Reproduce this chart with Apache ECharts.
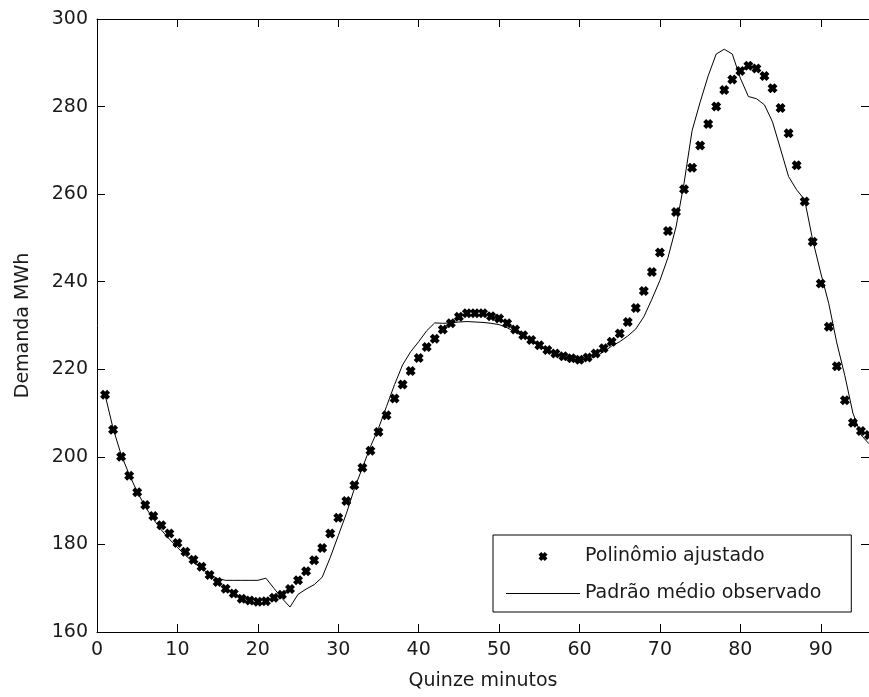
<!DOCTYPE html>
<html>
<head>
<meta charset="utf-8">
<script src="https://cdn.jsdelivr.net/npm/echarts@6/dist/echarts.min.js"></script>
<style>
html,body{margin:0;padding:0;background:#fff;}
#chart{width:869px;height:697px;}
</style>
</head>
<body>
<div id="chart"></div>
<script>
// Fitted polynomial values, quarter-hours 1..96
const polinomio = [
  214.2, 206.2, 200.0, 195.7, 191.9, 189.0, 186.5, 184.4, 182.5, 180.3,
  178.3, 176.5, 174.9, 173.0, 171.4, 169.9, 168.8, 167.6, 167.2, 166.9,
  167.0, 167.8, 168.5, 169.8, 171.8, 173.9, 176.4, 179.2, 182.5, 186.1,
  189.9, 193.5, 197.5, 201.4, 205.7, 209.5, 213.3, 216.5, 219.6, 222.6,
  225.1, 227.0, 229.1, 230.5, 232.0, 232.8, 232.8, 232.8, 232.1, 231.6,
  230.5, 229.1, 227.8, 226.7, 225.5, 224.4, 223.6, 223.0, 222.5, 222.2,
  222.7, 223.6, 224.8, 226.3, 228.2, 230.8, 234.0, 237.9, 242.2, 246.7,
  251.6, 255.9, 261.1, 266.0, 271.1, 276.0, 280.0, 283.8, 286.2, 288.1,
  289.3, 288.7, 287.0, 284.2, 279.7, 273.9, 266.6, 258.3, 249.1, 239.6,
  229.7, 220.7, 212.9, 207.8, 205.9, 205.0
];
// Observed mean pattern, quarter-hours 1..96
const observado = [
  214.2, 206.5, 200.5, 196.0, 192.0, 188.6, 185.8, 183.3, 181.2, 179.3,
  177.5, 175.9, 174.5, 173.2, 172.2, 171.8, 171.8, 171.8, 171.8, 171.8,
  172.3, 170.0, 167.7, 165.7, 168.6, 169.8, 170.8, 172.5, 177.0, 182.0,
  187.0, 192.7, 197.5, 202.3, 206.5, 211.5, 216.5, 221.0, 224.0, 226.3,
  228.8, 230.6, 230.5, 230.6, 230.8, 230.9, 230.8, 230.7, 230.5, 230.2,
  229.5, 228.5, 227.5, 226.5, 225.3, 224.2, 223.3, 222.8, 222.4, 222.1,
  222.3, 222.9, 224.0, 225.3, 226.3, 227.6, 229.2, 232.0, 236.0, 240.3,
  245.5, 252.5, 262.5, 274.5, 281.0, 287.0, 292.0, 293.1, 292.0, 286.5,
  282.3, 281.8, 280.4, 276.5, 270.3, 264.0, 261.0, 258.7, 249.5, 242.0,
  235.0, 226.0, 218.5, 210.0, 205.0, 203.0
];
const seriesNames = ['Polinômio ajustado', 'Padrão médio observado'];
const xTitle = 'Quinze minutos';
const yTitle = 'Demanda MWh';

const FONT = 'DejaVu Sans';
const TXT = '#1a1a1a';
const xMark = 'path://M0,3L3,0L5,2L7,0L10,3L8,5L10,7L7,10L5,8L3,10L0,7L2,5Z';
const lineIcon = 'path://M0,0L74,0L74,1.2L0,1.2Z';

const chart = echarts.init(document.getElementById('chart'), null, {renderer: 'canvas'});

function xAx(pos, show) {
  return {
    type: 'value', position: pos, min: 0, max: 96, interval: 10,
    name: show ? xTitle : '', nameLocation: 'middle', nameGap: 40,
    nameTextStyle: {fontFamily: FONT, fontSize: 19, color: TXT},
    axisLine: {show: true, onZero: false, lineStyle: {color: '#000', width: 1}},
    axisTick: {show: true, inside: true, length: 8, lineStyle: {color: '#000'}},
    axisLabel: {show: show, showMaxLabel: false, margin: 9, fontFamily: FONT, fontSize: 19, color: TXT},
    splitLine: {show: false}
  };
}
function yAx(pos, show) {
  return {
    type: 'value', position: pos, min: 160, max: 300, interval: 20,
    name: show ? yTitle : '', nameLocation: 'middle', nameGap: 64,
    nameTextStyle: {fontFamily: FONT, fontSize: 19, color: TXT},
    axisLine: {show: true, onZero: false, lineStyle: {color: '#000', width: 1}},
    axisTick: {show: true, inside: true, length: 8, lineStyle: {color: '#000'}},
    axisLabel: {show: show, margin: 9, fontFamily: FONT, fontSize: 19, color: TXT},
    splitLine: {show: false}
  };
}

chart.setOption({
  animation: false,
  backgroundColor: '#fff',
  grid: {left: 97, top: 19, right: -4, bottom: 65, containLabel: false},
  xAxis: [xAx('bottom', true), xAx('top', false)],
  yAxis: [yAx('left', true), yAx('right', false)],
  legend: {
    orient: 'vertical', left: 493, top: 535,
    data: [
      {name: seriesNames[0], icon: xMark},
      {name: seriesNames[1], icon: lineIcon}
    ],
    itemWidth: 74, itemHeight: 9, itemGap: 18,
    padding: [12, 30, 9, 13],
    borderColor: '#000', borderWidth: 1, backgroundColor: '#fff',
    textStyle: {fontFamily: FONT, fontSize: 19, color: TXT}
  },
  series: [
    {
      name: seriesNames[1], type: 'line',
      data: observado.map((v, i) => [i + 1, v]),
      showSymbol: false, symbol: 'none',
      lineStyle: {color: '#000', width: 1},
      itemStyle: {color: '#000'},
      z: 2
    },
    {
      name: seriesNames[0], type: 'scatter',
      data: polinomio.map((v, i) => [i + 1, v]),
      symbol: xMark, symbolSize: 10,
      itemStyle: {color: '#000', opacity: 1},
      z: 3
    }
  ]
});
</script>
</body>
</html>
